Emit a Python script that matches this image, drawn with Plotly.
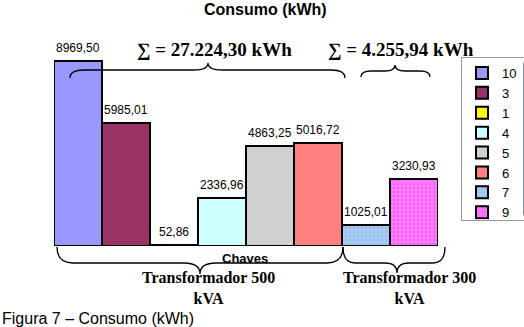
import plotly.graph_objects as go

# ---- data ----
categories = ["10", "3", "1", "4", "5", "6", "7", "9"]
values = [8969.50, 5985.01, 52.86, 2336.96, 4863.25, 5016.72, 1025.01, 3230.93]
colors = ["#9999ff", "#993366", "#ffff00", "#ccffff", "#d0d0d0", "#ff8080", "#9cc3ef", "#ff66ff"]
patterns = ["", "", "", "", "", "", ".", "."]
pattern_fg = ["", "", "", "", "", "", "#c8e0ff", "#ffb3ff"]
sum_labels = ["∑ = 27.224,30 kWh", "∑ = 4.255,94 kWh"]
group_labels = ["Transformador 500<br>kVA", "Transformador 300<br>kVA"]

W, H = 524, 327
L, R, T, B = 54, 438, 40, 246  # plot area in pixels


def px(x):
    return (x - L) / (R - L)


def py(y):
    return (B - y) / (B - T)


def brace(x0, x1, xt, yend, ymid, ytip, r=14, rt=14):
    pts = [
        f"M {px(x0)},{py(yend)}",
        f"Q {px(x0)},{py(ymid)} {px(x0 + r)},{py(ymid)}",
        f"L {px(xt - rt)},{py(ymid)}",
        f"Q {px(xt)},{py(ymid)} {px(xt)},{py(ytip)}",
        f"Q {px(xt)},{py(ymid)} {px(xt + rt)},{py(ymid)}",
        f"L {px(x1 - r)},{py(ymid)}",
        f"Q {px(x1)},{py(ymid)} {px(x1)},{py(yend)}",
    ]
    return " ".join(pts)


fig = go.Figure()
for c, v, col, pat, fg in zip(categories, values, colors, patterns, pattern_fg):
    marker = dict(color=col, line=dict(color="black", width=2))
    if pat:
        marker["pattern"] = dict(shape=pat, fgcolor=fg, bgcolor=col, size=4, solidity=0.35)
    fig.add_trace(go.Bar(x=[c], y=[v], name=c, marker=marker, width=1, cliponaxis=False))

annotations = []
for i, v in enumerate(values):
    annotations.append(dict(
        x=i, y=v, xref="x", yref="y", yshift=13, showarrow=False,
        text=f"{v:.2f}".replace(".", ","),
        font=dict(family="Arial, Liberation Sans", size=12, color="black")))

# title
annotations.append(dict(x=px(265), y=py(9), xref="paper", yref="paper", showarrow=False,
                        text="<b>Consumo (kWh)</b>", xanchor="center", yanchor="middle",
                        font=dict(family="Arial, Liberation Sans", size=16, color="black")))
# caption
annotations.append(dict(x=px(0), y=py(318), xref="paper", yref="paper", showarrow=False,
                        text="Figura 7 – Consumo (kWh)", xanchor="left", yanchor="middle",
                        font=dict(family="Arial, Liberation Sans", size=16, color="black")))
# sums
for txt, cx in zip(sum_labels, [214, 401]):
    annotations.append(dict(x=px(cx), y=py(50), xref="paper", yref="paper", showarrow=False,
                            text=f"<b>{txt}</b>", xanchor="center", yanchor="middle",
                            font=dict(family="Times New Roman, Liberation Serif", size=19, color="black")))
# Chaves
annotations.append(dict(x=px(245), y=py(258), xref="paper", yref="paper", showarrow=False,
                        text="<b>Chaves</b>", xanchor="center", yanchor="middle",
                        font=dict(family="Arial, Liberation Sans", size=13, color="black")))
# transformer labels
for txt, cx in zip(group_labels, [208, 409]):
    annotations.append(dict(x=px(cx), y=py(288), xref="paper", yref="paper", showarrow=False,
                            text=f"<b>{txt}</b>", xanchor="center", yanchor="middle", align="center",
                            font=dict(family="Times New Roman, Liberation Serif", size=16, color="black")))

shapes = [
    dict(type="path", xref="paper", yref="paper", path=brace(70, 345, 208, 78, 70, 63),
         line=dict(color="black", width=1.3)),
    dict(type="path", xref="paper", yref="paper", path=brace(361, 430, 395, 77, 71, 65, r=10, rt=10),
         line=dict(color="black", width=1.3)),
    dict(type="path", xref="paper", yref="paper", path=brace(57, 343, 200, 247, 263, 274, r=16, rt=16),
         line=dict(color="black", width=1.3)),
    dict(type="path", xref="paper", yref="paper", path=brace(343, 445, 397, 247, 263, 273, r=12, rt=12),
         line=dict(color="black", width=1.3)),
]

fig.update_layout(
    width=W, height=H,
    margin=dict(l=L, r=W - R, t=T, b=H - B, pad=0, autoexpand=False),
    paper_bgcolor="white", plot_bgcolor="white",
    barmode="overlay", bargap=0,
    showlegend=True,
    legend=dict(xref="container", yref="container", x=523 / W, y=1 - 57 / H,
                xanchor="right", yanchor="top",
                bordercolor="#999999", borderwidth=1, bgcolor="white",
                font=dict(family="Arial, Liberation Sans", size=13, color="black"),
                itemwidth=30, traceorder="normal"),
    xaxis=dict(visible=False, range=[-0.5, 7.5], type="category"),
    yaxis=dict(visible=False, range=[0, 10000]),
    annotations=annotations,
    shapes=shapes,
)

fig.write_html("out.html", config={"displayModeBar": False},
               post_script="document.body.style.margin='0';")
